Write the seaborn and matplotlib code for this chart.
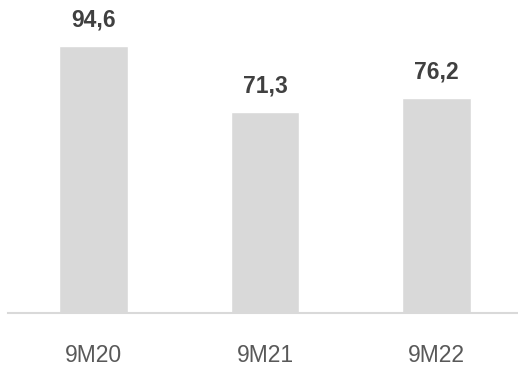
import matplotlib
matplotlib.use("Agg")
import matplotlib.pyplot as plt
import seaborn as sns
import pandas as pd

categories = ["9M20", "9M21", "9M22"]
values = [94.6, 71.3, 76.2]
labels = ["94,6", "71,3", "76,2"]

sns.set_theme(style="white")
plt.rcParams['font.family'] = ['Liberation Sans', 'DejaVu Sans']

df = pd.DataFrame({"cat": categories, "val": values})

fig = plt.figure(figsize=(5.18, 3.67), dpi=100)
ax = fig.add_axes([8/518, (367-313)/367, 510/518, 313/367])
sns.barplot(data=df, x="cat", y="val", color="#d9d9d9", saturation=1, width=0.40, ax=ax)

for p, lab in zip(ax.patches, labels):
    ax.annotate(lab, (p.get_x() + p.get_width()/2, p.get_height()),
                xytext=(0, 10.5), textcoords="offset points",
                ha="center", va="bottom", fontsize=16.5, fontweight="bold", color="#404040")

ax.set_xlim(-0.5, 2.475)
ax.set_ylim(0, 111.1)
ax.set_xlabel("")
ax.set_ylabel("")
ax.set_yticks([])
for s in ["top", "right", "left"]:
    ax.spines[s].set_visible(False)
ax.spines["bottom"].set_color("#d9d9d9")
ax.spines["bottom"].set_linewidth(1.5)
ax.tick_params(axis="x", length=0, pad=22, labelsize=16.5, labelcolor="#595959")

fig.savefig("out.png", dpi=100)
